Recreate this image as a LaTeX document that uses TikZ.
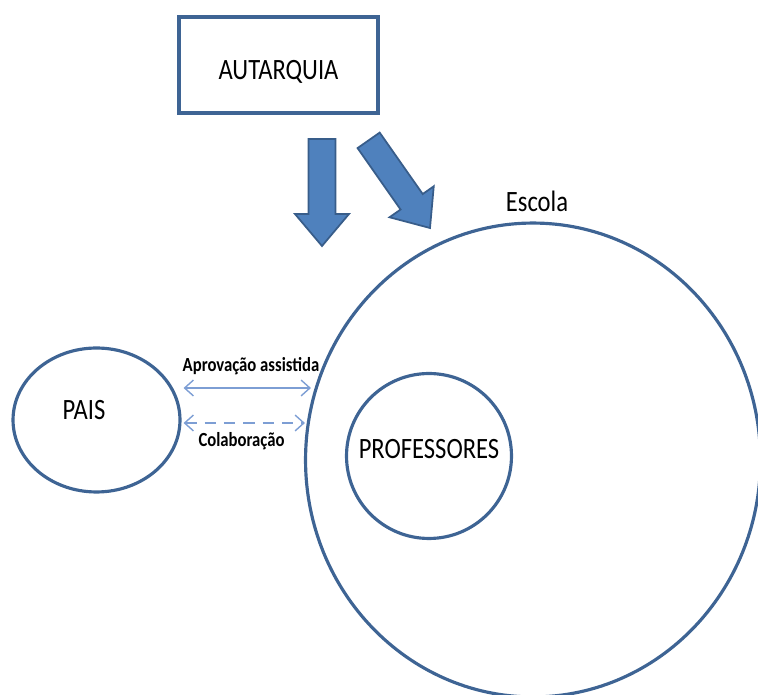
\documentclass[tikz,border=0pt]{standalone}
\usepackage{fontspec}
\setmainfont{Carlito}
\usepackage{graphicx}
\usetikzlibrary{shapes.geometric,arrows.meta,calc}

\definecolor{shapeline}{RGB}{62,100,148}
\definecolor{arrowfill}{RGB}{79,129,189}
\definecolor{arrowline}{RGB}{56,93,138}
\definecolor{linkblue}{RGB}{125,158,212}

\newcommand{\tallbox}[1]{\scalebox{1}[1.2]{#1}}

\tikzset{
  outline/.style={draw=shapeline, line width=1.8pt, inner sep=0pt},
  bigtext/.style={font=\fontsize{14}{16}\selectfont},
  smalltext/.style={font=\fontsize{9.5}{11}\selectfont\bfseries},
  blockarrow/.style={fill=arrowfill, draw=arrowline, line width=1pt, line join=miter},
  link/.style={draw=linkblue, line width=0.8pt,
    {Straight Barb[length=5pt,width=9pt]}-{Straight Barb[length=5pt,width=9pt]}},
}

\begin{document}
\begin{tikzpicture}[x=0.02cm, y=-0.02cm]
    \useasboundingbox (0,0) rectangle (758,695);

    % Autarquia box
    \node[outline, line width=2.2pt, rectangle, minimum width=3.98cm, minimum height=1.92cm,
          bigtext, text height=17pt, text depth=0pt] (autarquia) at (278.5,65) {\tallbox{AUTARQUIA}};

    % Straight block arrow
    \begin{scope}[shift={(322,246)}]
        \draw[blockarrow] (-13.5,-107) -- (13.5,-107) -- (13.5,-32) -- (27,-32)
            -- (0,0) -- (-27,-32) -- (-13.5,-32) -- cycle;
    \end{scope}

    % Tilted block arrow
    \begin{scope}[shift={(430,228)}, rotate=35]
        \draw[blockarrow] (-13.5,-107) -- (13.5,-107) -- (13.5,-32) -- (27,-32)
            -- (0,0) -- (-27,-32) -- (-13.5,-32) -- cycle;
    \end{scope}

    % Escola and professores
    \node[outline, ellipse, minimum width=9.1cm, minimum height=9.48cm] (escola) at (533,460) {};
    \node[bigtext, anchor=base] (escolalbl) at (537,212) {\tallbox{Escola}};
    \node[outline, circle, minimum size=3.3cm, bigtext, text height=2.3pt, text depth=0pt]
        (professores) at (429,456) {\tallbox{PROFESSORES}};

    % Pais
    \node[outline, ellipse, minimum width=3.34cm, minimum height=2.88cm] (pais) at (96.5,420) {};
    \node[bigtext, anchor=base] (paislbl) at (84,420) {\tallbox{PAIS}};

    % Links between pais and escola
    \draw[link] ($(pais.east)+(2,-32)$) -- ($(escola.west)+(7,-72)$);
    \draw[link, dash pattern=on 6.5pt off 4.5pt] ($(pais.east)+(2,3)$) -- ($(escola.west)+(1,-37)$);
    \node[smalltext, anchor=base] (aprovlbl) at (251,372) {\tallbox{Aprovação assistida}};
    \node[smalltext, anchor=base] (colablbl) at (241.5,447) {\tallbox{Colaboração}};
\end{tikzpicture}
\end{document}
